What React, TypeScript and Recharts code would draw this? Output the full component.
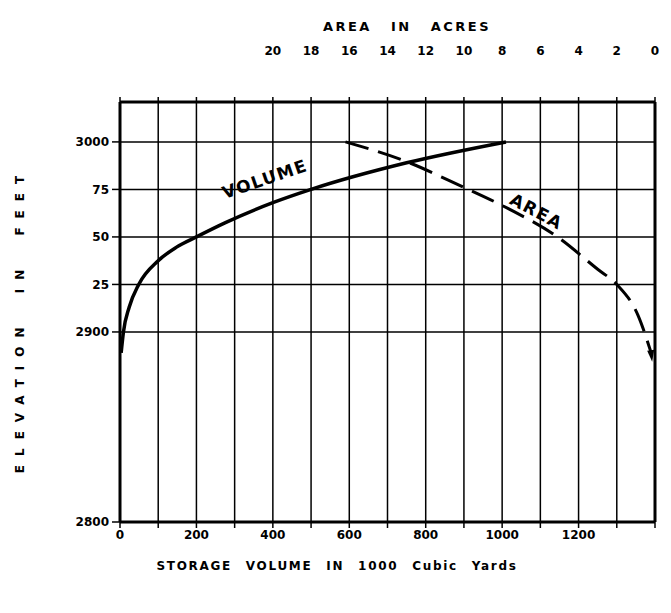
import { LineChart, Line, XAxis, YAxis, CartesianGrid, ReferenceLine, ReferenceDot } from 'recharts';

// storage volume curve (1000 cu yd vs elevation ft)
const volumeX = [3, 9, 24, 49, 100, 147, 200, 276, 400, 500, 750, 1010];
const volumeElev = [2889, 2900, 2913, 2925, 2937.5, 2944.5, 2950, 2957.5, 2968, 2975, 2989, 3000];

// surface area curve (acres vs elevation ft)
const areaAcres = [16.2, 13.1, 10.2, 7.7, 5.1, 3.0, 2.0, 0.9, 0.2];
const areaElev = [3000, 2990, 2977, 2965, 2950, 2933, 2925, 2909, 2889];

const volumeTicks = [0, 100, 200, 300, 400, 500, 600, 700, 800, 900, 1000, 1100, 1200, 1300, 1400];
const volumeLabeled = [0, 200, 400, 600, 800, 1000, 1200];
const acreTicks = [0, 2, 4, 6, 8, 10, 12, 14, 16, 18, 20, 22, 24, 26, 28];
const acreLabelMax = 20;
const elevTicks = [2800, 2900, 2925, 2950, 2975, 3000];
const elevLabels = ['2800', '2900', '25', '50', '75', '3000'];

const volumeData = volumeX.map((v, i) => ({ vol: v, elev: volumeElev[i] }));
const areaData = areaAcres.map((a, i) => ({ acres: a, elev: areaElev[i] }));

const FONT = '"DejaVu Sans", sans-serif';
const tickStyle = { fill: '#000', fontSize: 12, fontWeight: 700, fontFamily: FONT };

const ArrowDot = (props: any) => {
  const { cx, cy, index } = props;
  if (index !== areaData.length - 1) return <g key={`d${index}`} />;
  return (
    <polygon
      key={`d${index}`}
      points={`${cx - 4},${cy - 2} ${cx + 3},${cy - 3} ${cx + 1},${cy + 9}`}
      fill="#000"
    />
  );
};

const curveLabel = (text: string, angle: number) => (props: any) => {
  const { viewBox } = props;
  const x = viewBox.x + (viewBox.width || 0) / 2;
  const y = viewBox.y + (viewBox.height || 0) / 2;
  return (
    <text
      x={x}
      y={y}
      transform={`rotate(${angle} ${x} ${y})`}
      textAnchor="middle"
      dominantBaseline="middle"
      fontFamily={FONT}
      fontWeight={700}
      fontSize={17}
      letterSpacing={1.5}
      fill="#000"
    >
      {text}
    </text>
  );
};

export default function App() {
  return (
    <div style={{ position: 'absolute', left: 0, top: 0, width: 671, height: 613, background: '#fff' }}>
      <LineChart width={671} height={613} margin={{ top: 72, right: 16, bottom: 61, left: 60 }}>
        <CartesianGrid xAxisId="vol" stroke="#000" strokeWidth={1.5} />
        <XAxis
          xAxisId="vol"
          dataKey="vol"
          type="number"
          domain={[0, 1400]}
          ticks={volumeTicks}
          allowDataOverflow
          height={30}
          axisLine={{ stroke: '#000', strokeWidth: 3 }}
          tickLine={{ stroke: '#000', strokeWidth: 1.5 }}
          tickSize={6}
          tickMargin={2}
          tick={tickStyle}
          tickFormatter={(v: number) => (volumeLabeled.includes(v) ? String(v) : '')}
        />
        <XAxis
          xAxisId="area"
          dataKey="acres"
          type="number"
          orientation="top"
          reversed
          domain={[0, 28]}
          ticks={acreTicks}
          allowDataOverflow
          height={30}
          axisLine={{ stroke: '#000', strokeWidth: 3 }}
          tickLine={{ stroke: '#000', strokeWidth: 1.5 }}
          tickSize={5}
          tickMargin={42}
          tick={tickStyle}
          tickFormatter={(v: number) => (v <= acreLabelMax ? String(v) : '')}
        />
        <YAxis
          type="number"
          domain={[2800, 3021]}
          ticks={elevTicks}
          allowDataOverflow
          width={60}
          axisLine={{ stroke: '#000', strokeWidth: 3 }}
          tickLine={{ stroke: '#000', strokeWidth: 1.5 }}
          tickSize={8}
          tickMargin={3}
          tick={tickStyle}
          tickFormatter={(v: number) => elevLabels[elevTicks.indexOf(v)]}
        />
        <ReferenceLine xAxisId="vol" x={1400} stroke="#000" strokeWidth={3} />
        <Line
          xAxisId="vol"
          data={volumeData}
          dataKey="elev"
          type="monotone"
          stroke="#000"
          strokeWidth={3.5}
          dot={false}
          isAnimationActive={false}
        />
        <Line
          xAxisId="area"
          data={areaData}
          dataKey="elev"
          type="monotone"
          stroke="#000"
          strokeWidth={3}
          strokeDasharray="24 10"
          dot={ArrowDot}
          isAnimationActive={false}
        />
        <ReferenceDot
          xAxisId="vol"
          x={380}
          y={2980}
          r={0}
          stroke="none"
          label={{ content: curveLabel('VOLUME', -19) }}
        />
        <ReferenceDot
          xAxisId="vol"
          x={1089}
          y={2963}
          r={0}
          stroke="none"
          label={{ content: curveLabel('AREA', 28) }}
        />
      </LineChart>
      <div
        style={{
          position: 'absolute',
          left: 307,
          top: 19,
          width: 200,
          textAlign: 'center',
          fontFamily: FONT,
          fontWeight: 700,
          fontSize: 13,
          letterSpacing: 2.5,
          wordSpacing: 12,
          whiteSpace: 'nowrap',
        }}
      >
        AREA IN ACRES
      </div>
      <div
        style={{
          position: 'absolute',
          left: 137,
          top: 559,
          width: 400,
          textAlign: 'center',
          fontFamily: FONT,
          fontWeight: 700,
          fontSize: 12,
          letterSpacing: 1.7,
          wordSpacing: 8,
          whiteSpace: 'nowrap',
        }}
      >
        STORAGE VOLUME IN 1000 Cubic Yards
      </div>
      <div
        style={{
          position: 'absolute',
          left: 20,
          top: 320,
          transform: 'translate(-50%, -50%) rotate(-90deg)',
          fontFamily: FONT,
          fontWeight: 700,
          fontSize: 12,
          letterSpacing: 9,
          wordSpacing: 12,
          whiteSpace: 'nowrap',
        }}
      >
        ELEVATION IN FEET
      </div>
    </div>
  );
}
